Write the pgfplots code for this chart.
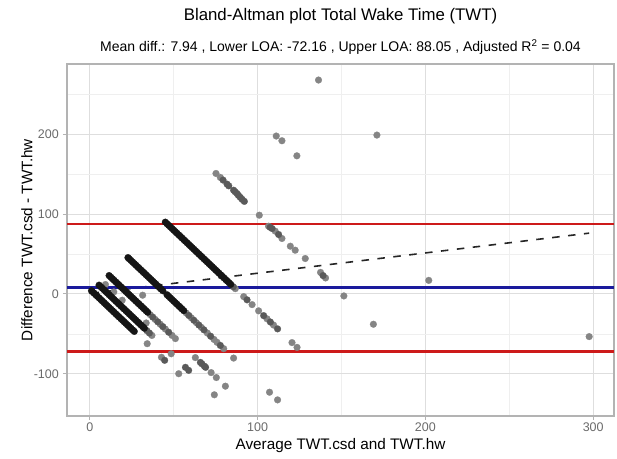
\documentclass[border=0pt]{standalone}
\usepackage{pgfplots}
\pgfplotsset{compat=1.18}
\usepackage{fontspec}
\setmainfont{Liberation Sans}
\definecolor{gridmaj}{HTML}{DEDEDE}
\definecolor{gridmin}{HTML}{EFEFEF}
\definecolor{bordergray}{HTML}{B3B3B3}
\definecolor{tickgray}{HTML}{6A6A6A}
\definecolor{loared}{HTML}{CD1A1A}
\definecolor{meanblue}{HTML}{1A1A9C}
\definecolor{ptsingle}{HTML}{858585}
\definecolor{ptcluster}{HTML}{5A5A5A}
\definecolor{ptdense}{HTML}{151515}
\begin{document}
\begin{tikzpicture}
\path[use as bounding box] (-67bp,-43bp) rectangle (550bp,416bp);
\begin{axis}[
  at={(0,0)}, anchor=south west,
  width=547bp, height=352bp, scale only axis,
  xmin=-13.6, xmax=312.4, ymin=-153, ymax=288.2,
  xtick={0,100,200,300}, xticklabels={0,100,200,300},
  ytick={-100,0,100,200}, yticklabels={-100,0,100,200},
  minor xtick={50,150,250}, minor ytick={-50,50,150,250},
  grid=both,
  major grid style={color=gridmaj, line width=0.9bp},
  minor grid style={color=gridmin, line width=0.6bp},
  axis line style={color=bordergray, line width=1.1bp},
  tick style={color=bordergray, line width=0.9bp},
  tick align=outside, major tick length=4bp, minor tick length=0pt,
  tick pos=left,
  xticklabel style={font=\fontsize{12.5bp}{15bp}\selectfont, color=tickgray, anchor=north, inner sep=0pt, yshift=-3bp},
  yticklabel style={font=\fontsize{12.5bp}{15bp}\selectfont, color=tickgray, anchor=east, inner sep=0pt, xshift=-4bp},
  xlabel={Average TWT.csd and TWT.hw},
  ylabel={Difference TWT.csd - TWT.hw},
  xlabel style={font=\fontsize{15.3bp}{18bp}\selectfont, at={(axis description cs:0.5,-0.09375)}, anchor=base, inner sep=0pt},
  ylabel style={font=\fontsize{15.3bp}{18bp}\selectfont, at={(axis description cs:-0.0631,0.5)}, anchor=base, inner sep=0pt},
  clip=true,
]
% regression line
\addplot[draw=black!85, line width=1.6bp, mark=none, dash pattern=on 7.5bp off 8.5bp] coordinates {(1,0.8) (297.6,76.2)};
% single points
\addplot[only marks, mark=*, mark size=3.4bp, mark options={draw=ptsingle, fill=ptsingle, line width=0.2bp}] coordinates {
(34.2,-62.4) (42.7,-79.4) (53,-100)
(37,-52) (48.5,-75) (74.2,-126.4)
(36,-26) (39,-32) (42,-38) (45,-44) (49,-52) (51,-56)
(62.9,-79.8) (72.3,-98.6) (75.4,-104.8) (80.8,-115.6)
(57.5,-24) (60.5,-30) (63.5,-36) (66.5,-42) (70,-49) (74,-57) (75.8,-60.6) (79.8,-68.6) (85.7,-80.4) (107.1,-123.2) (111.9,-132.8)
(86.7,6.6) (91.7,-3.4) (96.7,-13.4) (100.6,-21.2) (105.6,-31.2) (109.5,-39) (120.5,-61) (123.5,-67)
(75.2,151) (77.8,146) (101,98.7) (106.5,84.9) (110.5,78.7) (114.5,69.5) (119.5,59.8) (122.4,54.8) (128.4,44.4) (137.5,27) (140.5,20)
(9.3,11.8) (14.3,2.5) (19.3,-7.9) (33.6,-36.4) (31.5,-1.6)
(136.3,268.1) (111.1,197.9) (114.5,192) (123.4,173.1) (171.1,199.1) (151.4,-2.5) (169,-38) (202,17) (297.6,-53.5)
};
% overlapping points, darker
\addplot[only marks, mark=*, mark size=3.4bp, mark options={draw=ptcluster, fill=ptcluster, line width=0.2bp}] coordinates {
(44.6,-83.2) (34,-46) (35.5,-49) (57,-92) (58.9,-95.8)
(37.5,-29) (40.5,-35) (43.5,-41) (47,-48)
(65.9,-85.8) (66.8,-87.6) (68.3,-90.6) (69,-92)
(59,-27) (62,-33) (65,-39) (68,-45) (72,-53) (77.8,-64.6)
(85.5,9) (93.7,-7.4) (103.6,-27.2) (107.6,-35.2) (111.9,-43.8)
(79.4,142.7) (81.8,137.6) (82.8,135.5) (85.7,130) (86.6,128) (87.7,125.9) (88.6,123.5) (89.7,121) (90.8,118.5) (92.1,116) (107.5,83.5) (108.6,82) (112.5,74.5) (139,23)
};
% dense bands
\addplot[only marks, mark=*, mark size=3.4bp, mark options={draw=ptdense, fill=ptdense, line width=0.2bp}] coordinates {
(1,4) (1.5,3) (2.5,1) (3.5,-1) (4.5,-3) (5.5,-5) (6.5,-7) (7.5,-9) (8.5,-11) (9.5,-13) (10.5,-15) (11.5,-17) (12.5,-19) (13.5,-21) (14.5,-23) (15.5,-25) (16.5,-27) (17.5,-29) (18.5,-31) (19.5,-33) (20.5,-35) (21.5,-37) (22.5,-39) (23.5,-41) (24.5,-43) (25.5,-45) (26.5,-47)
(5.5,11) (6.5,9) (7.5,7) (8.5,5) (9.5,3) (10.5,1) (11.5,-1) (12.5,-3) (13.5,-5) (14.5,-7) (15.5,-9) (16.5,-11) (17.5,-13) (18.5,-15) (19.5,-17) (20.5,-19) (21.5,-21) (22.5,-23) (23.5,-25) (24.5,-27) (25.5,-29) (26.5,-31) (27.5,-33) (28.5,-35) (29.5,-37) (30.5,-39) (31.5,-41) (32.5,-43)
(11.5,23) (12.5,21) (13.5,19) (14.5,17) (15.5,15) (16.5,13) (17.5,11) (18.5,9) (19.5,7) (20.5,5) (21.5,3) (22.5,1) (23.5,-1) (24.5,-3) (25.5,-5) (26.5,-7) (27.5,-9) (28.5,-11) (29.5,-13) (30.5,-15) (31.5,-17) (32.5,-19) (33.5,-21) (34.5,-23)
(22.75,45.5) (23.5,44) (24.5,42) (25.5,40) (26.5,38) (27.5,36) (28.5,34) (29.5,32) (30.5,30) (31.5,28) (32.5,26) (33.5,24) (34.5,22) (35.5,20) (36.5,18) (37.5,16) (38.5,14) (39.5,12) (40.5,10) (41.5,8) (42.5,6) (43.5,4)
(46,-1) (47,-3) (48,-5) (49,-7) (50,-9) (51,-11) (52,-13) (53,-15) (54,-17) (55,-19) (56,-21)
(45,90) (46,88) (47,86) (48,84) (49,82) (50,80) (51,78) (52,76) (53,74) (54,72) (55,70) (56,68) (57,66) (58,64) (59,62) (60,60) (61,58) (62,56) (63,54) (64,52) (65,50) (66,48) (67,46) (68,44) (69,42) (70,40) (71,38) (72,36) (73,34) (74,32) (75,30) (76,28) (77,26) (78,24) (79,22) (80,20) (81,18) (82,16) (83,14) (84,12)
};
% limits of agreement and mean difference
\addplot[draw=loared, line width=2.2bp, mark=none] coordinates {(-13.6,88.05) (312.4,88.05)};
\addplot[draw=loared, line width=2.2bp, mark=none] coordinates {(-13.6,-72.16) (312.4,-72.16)};
\addplot[draw=meanblue, line width=2.2bp, mark=none] coordinates {(-13.6,7.94) (312.4,7.94)};
\end{axis}
\node[anchor=base, font=\fontsize{16.8bp}{20bp}\selectfont] at (273.5bp,395bp) {Bland-Altman plot Total Wake Time (TWT)};
\node[anchor=base, font=\fontsize{14bp}{17bp}\selectfont] at (273.5bp,364bp) {Mean diff.: 7.94 , Lower LOA: -72.16 , Upper LOA: 88.05 , Adjusted R\textsuperscript{2} = 0.04};
\end{tikzpicture}
\end{document}
